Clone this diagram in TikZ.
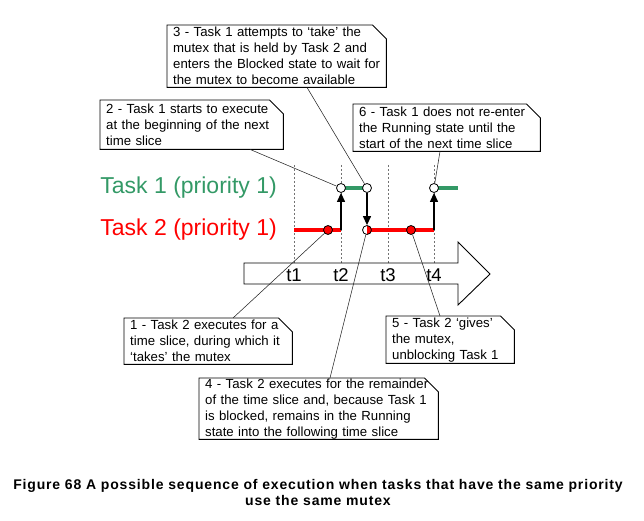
\documentclass[tikz,border=0pt]{standalone}
\usepackage{fontspec}
\setmainfont{Liberation Sans}
\newfontfamily\capfont[LetterSpace=6]{Liberation Sans}
\usetikzlibrary{arrows.meta}
\definecolor{taskgreen}{RGB}{51,153,102}
\definecolor{taskred}{RGB}{255,0,0}
% folded-corner outline around a note node
\newcommand\dogear[2][14]{%
  \draw[noteedge] (#2.south west) -- (#2.north west) -- ([xshift=-#1pt]#2.north east)
    -- ([yshift=-#1pt]#2.north east) -- (#2.south east) -- cycle;}
\begin{document}
\begin{tikzpicture}[x=1pt,y=-1pt,
  note/.style={anchor=north west, inner xsep=6pt, inner ysep=0pt, align=left,
    font=\fontsize{13.2}{16}\selectfont},
  noteedge/.style={draw=black, line width=0.9pt},
  leader/.style={draw=black!85, line width=0.55pt},
  slice/.style={draw=black!55, line width=0.6pt, dash pattern=on 2pt off 2pt},
  bar/.style={line width=4.5pt, line cap=butt},
  switch/.style={draw=black, line width=1.2pt, -{Triangle[length=9pt,width=8pt]}},
  dot/.style={circle, draw=black, line width=0.8pt, minimum size=9pt, inner sep=0pt},
  opendot/.style={dot, fill=white},
  reddot/.style={dot, fill=taskred},
  halfdot/.style={dot, fill=white, path picture={\fill[taskred]
      (path picture bounding box.north) rectangle (path picture bounding box.south east);}},
  tasklabel/.style={anchor=east, inner sep=0pt, font=\fontsize{23}{23}\selectfont},
  ticklabel/.style={inner sep=0pt, font=\fontsize{18.5}{18.5}\selectfont}]
\useasboundingbox (0,0) rectangle (644,521);

% time-slice boundaries
\foreach \tx in {294,341,388,434} \draw[slice] (\tx,165) -- (\tx,263);

% time axis arrow
\draw[line width=0.9pt, fill=white] (244,263) -- (458,263) -- (458,242) -- (490,274)
  -- (458,305) -- (458,284) -- (244,284) -- cycle;
\node[ticklabel] (t1) at (294,275) {t1};
\node[ticklabel] (t2) at (341,275) {t2};
\node[ticklabel] (t3) at (388,275) {t3};
\node[ticklabel] (t4) at (434,275) {t4};

% task rows
\node[tasklabel, text=taskgreen] (lbl1) at (277,188) {Task 1 (priority 1)};
\node[tasklabel, text=taskred] (lbl2) at (277,230) {Task 2 (priority 1)};

\coordinate (r0) at (294,230);
\coordinate (r2) at (341,230);
\coordinate (r5) at (434,230);
\coordinate (g5) at (458,188);
\coordinate (g2c) at (341,188);
\coordinate (g3c) at (367,188);
\coordinate (g4c) at (434,188);
\coordinate (r3c) at (367,230);

% execution bars
\draw[bar, taskred] (r0) -- (r2);
\draw[bar, taskred] (r3c) -- (r5);
\draw[bar, taskgreen] (g2c) -- (g3c);
\draw[bar, taskgreen] (g4c) -- (g5);

% event markers
\node[opendot] (g2) at (g2c) {};
\node[opendot] (g3) at (g3c) {};
\node[opendot] (g4) at (g4c) {};
\node[reddot] (r1) at (328,230) {};
\node[halfdot] (r3) at (r3c) {};
\node[reddot] (r4) at (411,230) {};

% context switches
\draw[switch] (r2) -- (g2);
\draw[switch] (g3) -- (r3);
\draw[switch] (r5) -- (g4);

% notes
\node[note, text width=207pt, minimum height=62pt] (n3) at (167,25)
  {3 - Task 1 attempts to `take' the\\mutex that is held by Task 2 and\\enters the Blocked state to wait for\\the mutex to become available};
\node[note, text width=171pt, minimum height=49pt] (n2) at (100,100)
  {2 - Task 1 starts to execute\\at the beginning of the next\\time slice};
\node[note, text width=175pt, minimum height=47pt] (n6) at (353,104)
  {6 - Task 1 does not re-enter\\the Running state until the\\start of the next time slice};
\node[note, text width=156pt, minimum height=46pt] (n1) at (124,318)
  {1 - Task 2 executes for a\\time slice, during which it\\`takes' the mutex};
\node[note, text width=116pt, minimum height=47pt] (n5) at (386,316)
  {5 - Task 2 `gives'\\the mutex,\\unblocking Task 1};
\node[note, text width=227pt, minimum height=61pt] (n4) at (199,378)
  {4 - Task 2 executes for the remainder\\of the time slice and, because Task 1\\is blocked, remains in the Running\\state into the following time slice};
\dogear{n3}\dogear{n2}\dogear{n6}\dogear{n1}\dogear{n5}\dogear{n4}

% leaders from notes to events
\draw[leader] ([xshift=140pt]n3.south west) -- (g3);
\draw[leader] ([xshift=150pt]n2.south west) -- (g2);
\draw[leader] ([xshift=87pt]n6.south west) -- (g4);
\draw[leader] ([xshift=109pt]n1.north west) -- (r1);
\draw[leader] ([xshift=131pt]n4.north west) -- (r3);
\draw[leader] ([xshift=54pt]n5.north west) -- (r4);

% caption
\node[align=center, inner sep=0pt, font=\capfont\bfseries\fontsize{14}{16}\selectfont] (cap) at (318,492)
  {Figure 68 A possible sequence of execution when tasks that have the same priority\\use the same mutex};
\end{tikzpicture}
\end{document}
